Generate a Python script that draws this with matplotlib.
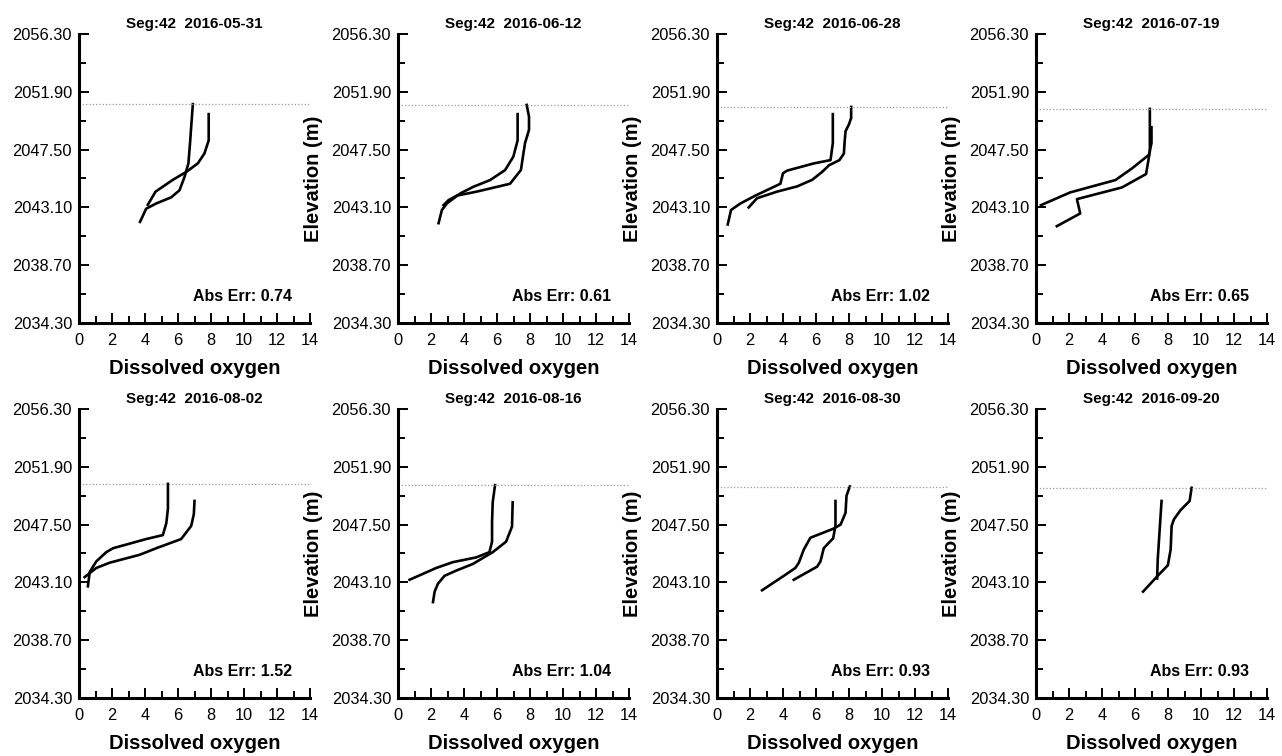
import numpy as np
import matplotlib
matplotlib.use("Agg")
import matplotlib.pyplot as plt

plt.rcParams['font.family'] = ['Liberation Sans', 'DejaVu Sans']

dates = ["2016-05-31", "2016-06-12", "2016-06-28", "2016-07-19",
         "2016-08-02", "2016-08-16", "2016-08-30", "2016-09-20"]
abs_err = [0.74, 0.61, 1.02, 0.65, 1.52, 1.04, 0.93, 0.93]
surface = [2050.96, 2050.9, 2050.75, 2050.6, 2050.6, 2050.5, 2050.4, 2050.3]

# profile starting at the surface line
do_a = [
    [6.9, 6.8, 6.73, 6.63, 6.39, 6.09, 5.58, 4.68, 4.07, 3.7],
    [7.8, 7.94, 7.94, 7.7, 7.6, 7.45, 6.79, 4.77, 3.57, 3.06, 2.76],
    [8.13, 8.13, 7.99, 7.79, 7.73, 7.69, 7.42, 6.78, 6.37, 5.77, 4.86, 3.64, 2.43, 1.92],
    [6.9, 6.9, 6.67, 5.21, 2.48, 2.68, 1.26],
    [5.39, 5.39, 5.29, 5.08, 4.07, 2.06, 1.65, 1.05, 0.65, 0.54],
    [5.88, 5.74, 5.7, 5.7, 5.54, 4.73, 3.32, 2.32, 0.7],
    [8.05, 7.85, 7.79, 7.49, 7.08, 5.66, 5.26, 4.96, 4.75, 4.05, 2.73],
    [9.43, 9.31, 8.76, 8.36, 8.22, 8.16, 7.99, 7.45, 6.49],
]
elev_a = [
    [2050.96, 2049.25, 2048.0, 2046.45, 2045.4, 2044.4, 2043.86, 2043.4, 2043.0, 2042.0],
    [2050.9, 2050.0, 2049.0, 2048.0, 2047.2, 2045.95, 2044.9, 2044.3, 2044.0, 2043.65, 2043.27],
    [2050.75, 2049.9, 2049.4, 2048.9, 2048.0, 2047.2, 2046.7, 2046.3, 2045.8, 2045.2, 2044.7, 2044.3, 2043.8, 2043.1],
    [2050.6, 2047.34, 2045.64, 2044.62, 2043.73, 2042.64, 2041.67],
    [2050.6, 2048.7, 2047.6, 2046.7, 2046.4, 2045.7, 2045.4, 2044.7, 2043.9, 2042.8],
    [2050.5, 2049.2, 2047.7, 2046.2, 2045.4, 2045.0, 2044.64, 2044.2, 2043.3],
    [2050.4, 2049.7, 2048.4, 2047.5, 2047.2, 2046.5, 2045.6, 2044.6, 2044.2, 2043.6, 2042.5],
    [2050.3, 2049.3, 2048.6, 2047.9, 2047.4, 2045.6, 2044.4, 2043.7, 2042.4],
]

# second profile
do_b = [
    [7.86, 7.86, 7.6, 7.2, 6.5, 5.69, 4.64, 4.17],
    [7.25, 7.25, 6.99, 6.49, 5.58, 4.57, 3.77, 2.96, 2.66, 2.46],
    [7.02, 7.02, 6.88, 5.87, 4.25, 4.0, 3.84, 2.33, 1.42, 0.85, 0.65],
    [7.0, 7.0, 6.84, 5.82, 4.81, 2.07, 0.3],
    [7.0, 6.96, 6.8, 6.19, 4.68, 3.67, 1.86, 1.05, 0.34],
    [6.95, 6.91, 6.55, 5.74, 4.53, 3.53, 2.82, 2.42, 2.22, 2.12],
    [7.18, 7.18, 7.04, 6.84, 6.47, 6.27, 6.07, 4.65],
    [7.61, 7.51, 7.38, 7.34],
]
elev_b = [
    [2050.2, 2048.2, 2047.2, 2046.45, 2045.8, 2045.2, 2044.3, 2043.3],
    [2050.2, 2048.2, 2046.96, 2045.94, 2045.18, 2044.67, 2044.16, 2043.4, 2042.9, 2041.9],
    [2050.2, 2048.0, 2046.7, 2046.45, 2045.9, 2045.7, 2044.9, 2044.0, 2043.4, 2042.9, 2041.8],
    [2049.2, 2048.0, 2047.1, 2046.07, 2045.18, 2044.24, 2043.27],
    [2049.3, 2048.3, 2047.4, 2046.4, 2045.7, 2045.2, 2044.6, 2044.2, 2043.5],
    [2049.2, 2047.35, 2046.2, 2045.4, 2044.5, 2044.0, 2043.6, 2043.0, 2042.4, 2041.6],
    [2049.3, 2047.45, 2046.45, 2046.2, 2045.7, 2044.7, 2044.3, 2043.3],
    [2049.3, 2047.4, 2044.9, 2043.4],
]

yticks = [2034.30, 2038.70, 2043.10, 2047.50, 2051.90, 2056.30]

W, H = 1282, 756
fig = plt.figure(figsize=(W / 100, H / 100), dpi=100)

lefts = [79, 398, 717, 1036]
tops = [34, 409]
aw, ah = 231, 289

for i in range(8):
    r, c = divmod(i, 4)
    ax = fig.add_axes([lefts[c] / W, 1 - (tops[r] + ah) / H, aw / W, ah / H])
    ax.plot(do_a[i], elev_a[i], color='black', lw=1.9)
    ax.plot(do_b[i], elev_b[i], color='black', lw=1.9)
    ax.axhline(surface[i], color='#999999', lw=0.9, ls=':')
    ax.set_xlim(0, 14)
    ax.set_ylim(2034.3, 2056.3)
    ax.set_xticks(np.arange(0, 15, 2))
    ax.set_xticks(np.arange(1, 14, 2), minor=True)
    ax.set_yticks(yticks)
    ax.set_yticklabels(["%.2f" % v for v in yticks])
    ax.set_yticks(np.arange(2036.5, 2056.3, 4.4), minor=True)
    for s in ['top', 'right']:
        ax.spines[s].set_visible(False)
    for s in ['left', 'bottom']:
        ax.spines[s].set_linewidth(2.2)
    ax.tick_params(which='major', direction='in', length=7.5, width=1.4,
                   labelsize=11.8, pad=5)
    ax.tick_params(which='minor', direction='in', length=5, width=1.4)
    ax.tick_params(axis='x', which='major', pad=7)
    ax.set_title("Seg:42  " + dates[i], fontsize=11, fontweight='bold', pad=4)
    ax.set_xlabel("Dissolved oxygen", fontsize=14.5, fontweight='bold', labelpad=8)
    if c > 0:
        ax.set_ylabel("Elevation (m)", fontsize=14.5, fontweight='bold')
        ax.yaxis.set_label_coords(-0.325, 0.5)
    ax.text(12.9, 2036.3, "Abs Err: %.2f" % abs_err[i], ha='right', va='center',
            fontsize=11.5, fontweight='bold')

fig.savefig("out.png", dpi=100)
